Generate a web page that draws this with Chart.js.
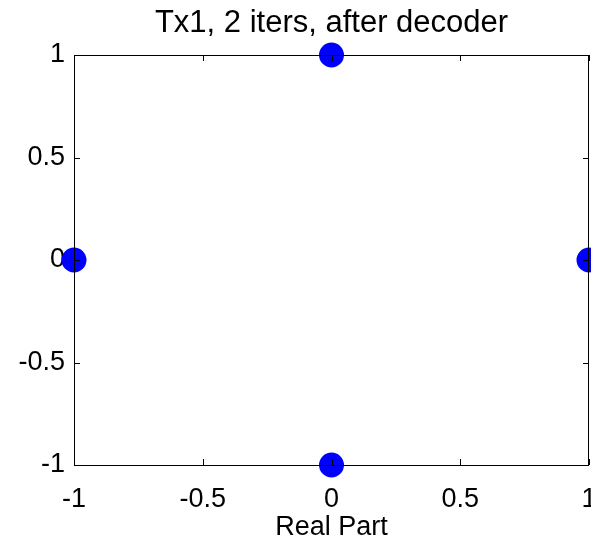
<!DOCTYPE html>
<html>
<head>
<meta charset="utf-8">
<title>Tx1, 2 iters, after decoder</title>
<script src="https://cdn.jsdelivr.net/npm/chart.js@4/dist/chart.umd.min.js"></script>
<style>
  html, body { margin: 0; padding: 0; background: #fff; }
  canvas { display: block; }
</style>
</head>
<body>
<canvas id="scatter" width="591" height="539"></canvas>
<script>
// constellation points after the decoder
const realPart = [0, -1, 1, 0];
const imagPart = [1, 0, 0, -1];

const xTicks = [-1, -0.5, 0, 0.5, 1];
const yTicks = [-1, -0.5, 0, 0.5, 1];
const xTickLabels = ["-1", "-0.5", "0", "0.5", "1"];
const yTickLabels = ["-1", "-0.5", "0", "0.5", "1"];

const points = realPart.map((x, i) => ({ x: x, y: imagPart[i] }));
const FONT = "'Liberation Sans', Arial, Helvetica, sans-serif";

// box around the axes with inward ticks, drawn on top of the markers
const boxFrame = {
  id: "boxFrame",
  afterDatasetsDraw(chart) {
    const { ctx, chartArea: a, scales } = chart;
    const len = 6;
    ctx.save();
    ctx.strokeStyle = "#000";
    ctx.lineWidth = 1;
    ctx.strokeRect(a.left + 0.5, a.top + 0.5, a.right - a.left - 1, a.bottom - a.top);
    ctx.beginPath();
    xTicks.forEach((v) => {
      const px = Math.round(scales.x.getPixelForValue(v)) + 0.5;
      ctx.moveTo(px, a.bottom);
      ctx.lineTo(px, a.bottom - len);
      ctx.moveTo(px, a.top);
      ctx.lineTo(px, a.top + len);
    });
    yTicks.forEach((v) => {
      const py = Math.round(scales.y.getPixelForValue(v)) + 0.5;
      ctx.moveTo(a.left, py);
      ctx.lineTo(a.left + len, py);
      ctx.moveTo(a.right, py);
      ctx.lineTo(a.right - len, py);
    });
    ctx.stroke();
    ctx.restore();
  },
};

new Chart(document.getElementById("scatter"), {
  type: "scatter",
  data: {
    datasets: [
      {
        data: points,
        pointRadius: 11.5,
        pointHoverRadius: 11.5,
        pointBorderWidth: 2,
        backgroundColor: "#0000ff",
        borderColor: "#0000ff",
      },
      {
        data: points,
        pointStyle: "rect",
        pointRadius: 1.5,
        pointHoverRadius: 1.5,
        pointBorderWidth: 1,
        backgroundColor: "#ffffff",
        borderColor: "#555555",
      },
    ],
  },
  options: {
    responsive: false,
    animation: false,
    clip: false,
    layout: { autoPadding: false, padding: { left: 0, right: 2, top: 0, bottom: 0 } },
    plugins: {
      legend: { display: false },
      tooltip: { enabled: false },
      title: { display: false },
    },
    scales: {
      x: {
        type: "linear",
        min: -1,
        max: 1,
        afterBuildTicks: (s) => { s.ticks = xTicks.map((v) => ({ value: v })); },
        afterFit: (s) => { s.height = 74; s.paddingLeft = 0; s.paddingRight = 0; },
        grid: { display: false, drawTicks: false },
        border: { display: false },
        ticks: {
          color: "#000",
          padding: 18,
          maxRotation: 0,
          autoSkip: false,
          font: { family: FONT, size: 27 },
          callback: (v) => xTickLabels[xTicks.indexOf(v)],
        },
        title: {
          display: true,
          text: "Real Part",
          color: "#000",
          font: { family: FONT, size: 27, lineHeight: 1 },
          padding: { top: 0, bottom: -2 },
        },
      },
      // top axis only carries the plot title, centred over the axes box
      xTop: {
        type: "linear",
        position: "top",
        min: -1,
        max: 1,
        afterFit: (s) => { s.height = 55; s.paddingLeft = 0; s.paddingRight = 0; },
        grid: { display: false, drawTicks: false },
        border: { display: false },
        ticks: { display: false },
        title: {
          display: true,
          text: "Tx1, 2 iters, after decoder",
          color: "#000",
          font: { family: FONT, size: 31, lineHeight: 1.2 },
          padding: { top: 5, bottom: 0 },
        },
      },
      y: {
        type: "linear",
        min: -1,
        max: 1,
        afterBuildTicks: (s) => { s.ticks = yTicks.map((v) => ({ value: v })); },
        afterFit: (s) => { s.width = 74; s.paddingTop = 0; s.paddingBottom = 0; },
        grid: { display: false, drawTicks: false },
        border: { display: false },
        ticks: {
          color: "#000",
          padding: 9,
          autoSkip: false,
          font: { family: FONT, size: 27 },
          callback: (v) => yTickLabels[yTicks.indexOf(v)],
        },
      },
    },
  },
  plugins: [boxFrame],
});
</script>
</body>
</html>
